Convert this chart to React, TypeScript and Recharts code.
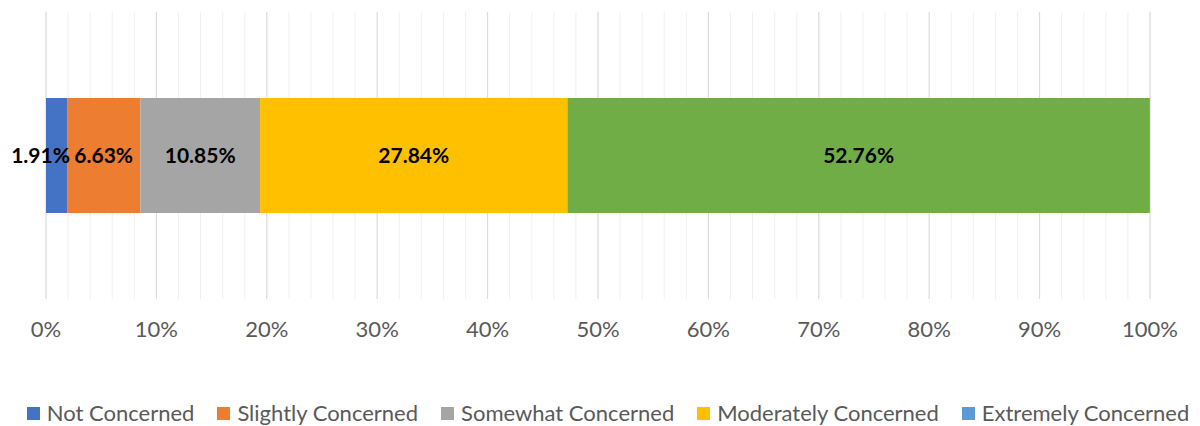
import { BarChart, Bar, XAxis, YAxis, CartesianGrid, Legend, LabelList } from "recharts";

const categories = ["Concern"];
const seriesNames = [
  "Not Concerned",
  "Slightly Concerned",
  "Somewhat Concerned",
  "Moderately Concerned",
  "Extremely Concerned",
];
const seriesValues = [1.91, 6.63, 10.85, 27.84, 52.76];
const barColors = ["#4472C4", "#ED7D31", "#A5A5A5", "#FFC000", "#70AD47"];
// Excel's legend swatch for the last series doesn't match its bar
const legendColors = ["#4472C4", "#ED7D31", "#A5A5A5", "#FFC000", "#5B9BD5"];
const majorTicks = [0, 10, 20, 30, 40, 50, 60, 70, 80, 90, 100];
const minorTicks = Array.from({ length: 51 }, (_, i) => i * 2);

const FONT = "Lato, 'Open Sans', sans-serif";

const data = categories.map((name) => {
  const row: Record<string, string | number> = { name };
  seriesNames.forEach((s, i) => {
    row[s] = seriesValues[i];
  });
  return row;
});

// minor gridlines every 2%
const minorGrid = (props: any) => {
  const { xAxis, offset } = props;
  const sc = xAxis && typeof xAxis.scale === "function" ? xAxis.scale : null;
  return minorTicks.map((t) =>
    sc ? sc(t) : offset.left + (t / 100) * offset.width
  );
};

const LegendRow = () => (
  <div
    style={{
      display: "flex",
      justifyContent: "center",
      gap: 23,
      paddingLeft: 16,
      fontFamily: FONT,
      fontSize: 22,
      color: "#595959",
      height: 24,
      lineHeight: "24px",
    }}
  >
    {seriesNames.map((s, i) => (
      <div key={s} style={{ display: "flex", alignItems: "center" }}>
        <span
          style={{
            display: "inline-block",
            width: 13,
            height: 13,
            background: legendColors[i],
            marginRight: 7,
          }}
        />
        {s}
      </div>
    ))}
  </div>
);

export default function App() {
  return (
    <div style={{ position: "absolute", left: 0, top: 0, background: "#fff" }}>
      <BarChart
        width={1200}
        height={426}
        data={data}
        layout="vertical"
        margin={{ top: 12, right: 50, left: 46, bottom: 63 }}
        barSize={115}
      >
        <CartesianGrid
          horizontal={false}
          stroke="#F0F0F0"
          strokeWidth={1}
          verticalCoordinatesGenerator={minorGrid}
        />
        <CartesianGrid horizontal={false} stroke="#D9D9D9" strokeWidth={1} />
        <XAxis
          type="number"
          domain={[0, 100]}
          ticks={majorTicks}
          tickFormatter={(v) => `${v}%`}
          axisLine={false}
          tickLine={false}
          height={40}
          tick={{ fill: "#595959", fontSize: 22, fontFamily: FONT, dy: 14 }}
        />
        <YAxis type="category" dataKey="name" hide />
        {seriesNames.map((s, i) => (
          <Bar
            key={s}
            dataKey={s}
            stackId="a"
            fill={barColors[i]}
            isAnimationActive={false}
          >
            <LabelList
              dataKey={s}
              position="center"
              offset={0}
              formatter={(v: number) => `${v.toFixed(2)}%`}
              style={{ fill: "#000", fontWeight: "bold", fontSize: 21, fontFamily: FONT }}
              dx={i === 0 ? -16 : 0}
            />
          </Bar>
        ))}
        <Legend
          content={() => <LegendRow />}
          wrapperStyle={{ top: 401, left: 0, width: 1200 }}
        />
      </BarChart>
    </div>
  );
}
